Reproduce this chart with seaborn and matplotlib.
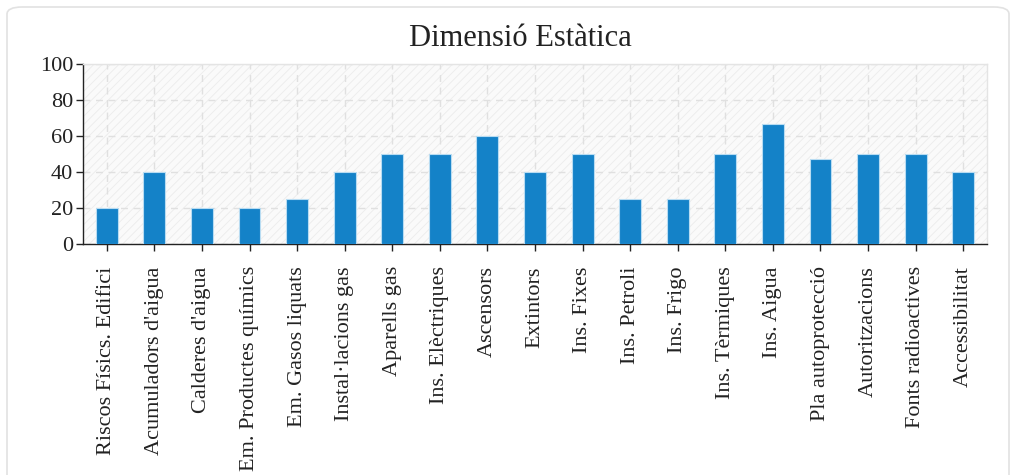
import matplotlib
matplotlib.use("Agg")
import matplotlib.pyplot as plt
import seaborn as sns
import pandas as pd
from matplotlib.patches import Rectangle, FancyBboxPatch

categories = ["Riscos Físics. Edifici", "Acumuladors d'aigua", "Calderes d'aigua",
              "Em. Productes químics", "Em. Gasos liquats", "Instal·lacions gas",
              "Aparells gas", "Ins. Elèctriques", "Ascensors", "Extintors",
              "Ins. Fixes", "Ins. Petroli", "Ins. Frigo", "Ins. Tèrmiques",
              "Ins. Aigua", "Pla autoprotecció", "Autoritzacions",
              "Fonts radioactives", "Accessibilitat"]
values = [20, 40, 20, 20, 25, 40, 50, 50, 60, 40, 50, 25, 25, 50, 66.7, 47.5, 50, 50, 40]
y_ticks = [0, 20, 40, 60, 80, 100]

sns.set_theme(style="white")
plt.rcParams['font.family'] = ['Liberation Serif', 'DejaVu Serif']
plt.rcParams['hatch.linewidth'] = 0.6

df = pd.DataFrame({"cat": categories, "val": values})

fig = plt.figure(figsize=(10.16, 4.75), dpi=100)
fig.patch.set_facecolor("white")
border = FancyBboxPatch((7/1016, -0.05), 1 - 14/1016, 1.05 - 7/475,
                        boxstyle="round,pad=0,rounding_size=0.015",
                        transform=fig.transFigure, facecolor="none",
                        edgecolor="#e2e2e2", linewidth=1.2)
fig.patches.append(border)

ax = fig.add_axes([83/1016, (475-244)/475, (987-83)/1016, (244-64)/475])
ax.set_facecolor("#fafafa")
ax.add_patch(Rectangle((0, 0), 1, 1, transform=ax.transAxes, facecolor="none",
                       edgecolor="#ececec", hatch="////", linewidth=0, zorder=0))

sns.barplot(data=df, x="cat", y="val", color="#1482c8", width=0.46,
            saturation=1, ax=ax, edgecolor="#b8dcf2", linewidth=0.8, zorder=3)

ax.set_ylim(0, 100)
ax.set_xlim(-0.5, len(categories) - 0.5)
ax.set_yticks(y_ticks)
ax.set_xlabel("")
ax.set_ylabel("")
ax.grid(True, color="#e0e0e0", linestyle=(0, (5, 4)), linewidth=1, zorder=1)
ax.set_axisbelow(True)

for s in ["top", "right"]:
    ax.spines[s].set_color("#e4e4e4")
    ax.spines[s].set_linewidth(1)
for s in ["left", "bottom"]:
    ax.spines[s].set_color("#222222")
    ax.spines[s].set_linewidth(1)

ax.tick_params(axis="both", direction="out", length=5, width=1, color="#222222",
               labelcolor="#222222", left=True, bottom=True)
ax.tick_params(axis="y", labelsize=16, pad=2)
ax.tick_params(axis="x", labelsize=16, pad=11)
for lab in ax.get_xticklabels():
    lab.set_rotation(90)
    lab.set_ha("center")
    lab.set_va("top")

fig.text(520/1016, 1 - 38/475, "Dimensió Estàtica", ha="center", va="center",
         fontsize=22, color="#222222")

fig.savefig("out.png", dpi=100, facecolor="white")
